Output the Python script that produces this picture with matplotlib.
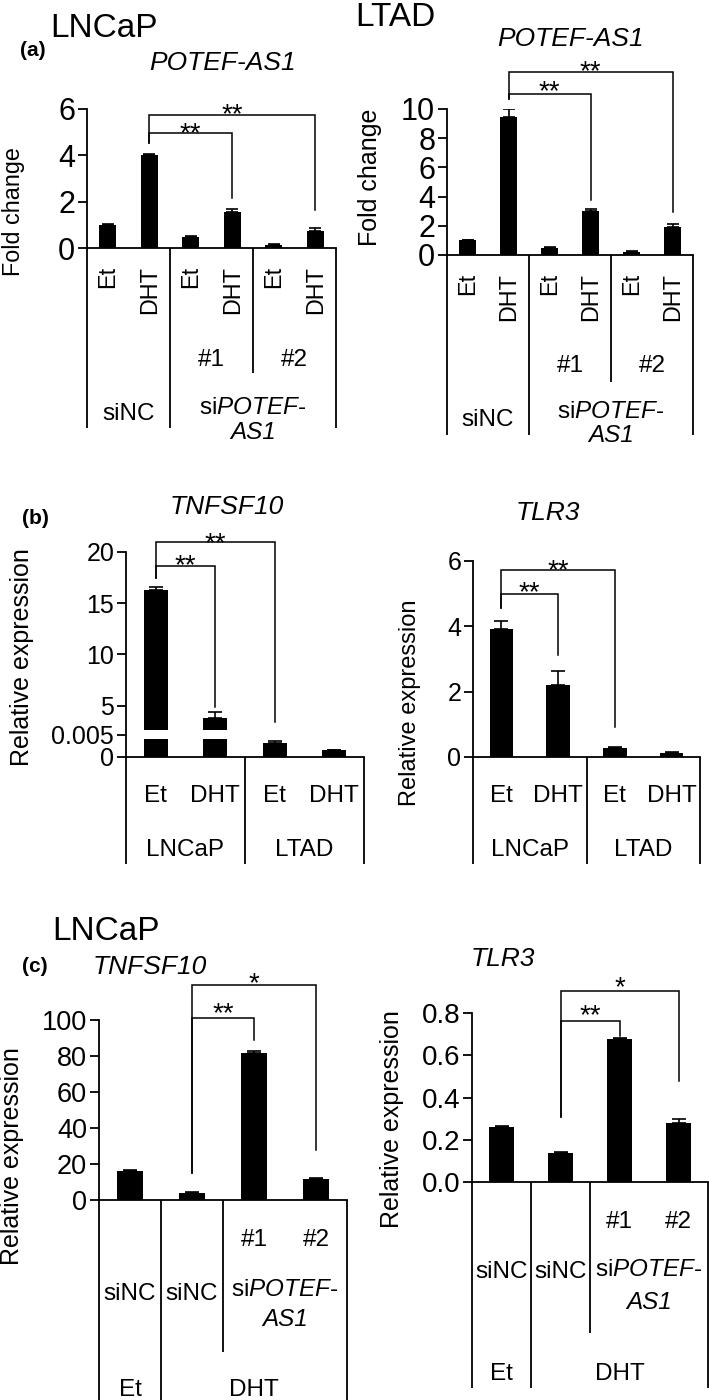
import numpy as np
import matplotlib
matplotlib.use("Agg")
import matplotlib.pyplot as plt
import matplotlib.transforms as mtransforms

plt.rcParams['font.family'] = ['Liberation Sans', 'DejaVu Sans']
plt.rcParams['mathtext.fontset'] = 'custom'
plt.rcParams['mathtext.rm'] = 'Liberation Sans'
plt.rcParams['mathtext.it'] = 'Liberation Sans:italic'
plt.rcParams['mathtext.bf'] = 'Liberation Sans:bold'

# ---------------- data ----------------
# (a) POTEF-AS1 fold change: siNC Et/DHT, si#1 Et/DHT, si#2 Et/DHT
a_treat = ["Et", "DHT", "Et", "DHT", "Et", "DHT"]
a_lncap_vals = [1.0, 4.03, 0.49, 1.56, 0.15, 0.75]
a_lncap_err = [0.03, 0.04, 0.02, 0.14, 0.02, 0.12]
a_ltad_vals = [1.0, 9.47, 0.50, 3.00, 0.22, 1.90]
a_ltad_err = [0.03, 0.50, 0.03, 0.12, 0.02, 0.20]

# (b) relative expression: LNCaP Et/DHT, LTAD Et/DHT
b_treat = ["Et", "DHT", "Et", "DHT"]
b_cells = ["LNCaP", "LTAD"]
b_tnfsf10_vals = [16.3, 3.8, 1.37, 0.68]   # broken axis display scale
b_tnfsf10_err = [0.30, 0.60, 0.18, 0.03]
b_tnfsf10_ticks = [0, 2.15, 5, 10, 15, 20]
b_tnfsf10_ticklabels = ["0", "0.005", "5", "10", "15", "20"]
b_break = (1.76, 2.63)
b_tlr3_vals = [3.91, 2.20, 0.28, 0.12]
b_tlr3_err = [0.25, 0.43, 0.03, 0.02]

# (c) LNCaP: Et siNC, DHT siNC, DHT si#1, DHT si#2
c_tnfsf10_vals = [16.1, 3.8, 81.7, 11.5]
c_tnfsf10_err = [0.5, 0.4, 1.3, 0.5]
c_tlr3_vals = [0.262, 0.138, 0.676, 0.281]
c_tlr3_err = [0.002, 0.002, 0.005, 0.018]

# ---------------- figure ----------------
W, H = 709, 1400
fig = plt.figure(figsize=(W / 100, H / 100), dpi=100)
PX = mtransforms.Affine2D().scale(1.0 / W, -1.0 / H).translate(0, 1) + fig.transFigure
LW = 1.3
TFS = 17.5  # table text size


def ftext(x, y, s, **kw):
    fig.text(x, y, s, transform=PX, **kw)


def make_axes(x0, x1, ytop, ybot, ylim, yticks, yticklabels, tick_fs):
    ax = fig.add_axes([x0 / W, 1 - ybot / H, (x1 - x0) / W, (ybot - ytop) / H])
    ax.set_ylim(*ylim)
    for s in ("top", "right"):
        ax.spines[s].set_visible(False)
    for s in ("left", "bottom"):
        ax.spines[s].set_linewidth(LW)
    ax.tick_params(axis="x", length=0, labelbottom=False)
    ax.tick_params(axis="y", direction="out", length=6.5, width=LW,
                   labelsize=tick_fs, pad=2)
    ax.set_yticks(yticks)
    ax.set_yticklabels(yticklabels)
    ax.patch.set_alpha(0)
    return ax


def draw_bars(ax, vals, errs, width=0.41, capsize=4):
    x = np.arange(len(vals))
    ax.bar(x, vals, width, color="black", zorder=2)
    ax.errorbar(x, vals, yerr=[np.zeros(len(vals)), errs], fmt="none",
                ecolor="black", elinewidth=1.2, capsize=capsize,
                capthick=1.2, zorder=1)
    ax.set_xlim(-0.5, len(vals) - 0.5)


def bracket(ax, x1, x2, y1, ytop, y2, label, d_px=10, fs=20):
    ax.plot([x1, x1, x2, x2], [y1, ytop, ytop, y2], color="black", lw=1.1,
            clip_on=False, solid_joinstyle="miter", zorder=3)
    ax.annotate(label, xy=((x1 + x2) / 2, ytop),
                xytext=(0, (d_px - 9.5) / 1.389), textcoords="offset points",
                ha="center", va="center", fontsize=fs, annotation_clip=False)


def vline(ax, xd, y0, y1):
    tr = mtransforms.blended_transform_factory(ax.transData, PX)
    ax.plot([xd, xd], [y0, y1], transform=tr, color="black", lw=LW,
            clip_on=False, solid_capstyle="butt")


def ctext(ax, xd, ypx, s, **kw):
    tr = mtransforms.blended_transform_factory(ax.transData, PX)
    kw.setdefault("ha", "center")
    kw.setdefault("va", "center_baseline")
    ax.text(xd, ypx, s, transform=tr, clip_on=False, **kw)


SIPOTEF = r"si$\mathit{POTEF}$" + "-"

# ================= (a) =================
ftext(50, 25, "LNCaP", fontsize=24, ha="left", va="center_baseline")
ftext(355, 14, "LTAD", fontsize=24, ha="left", va="center_baseline")
ftext(20, 49, "(a)", fontsize=15, fontweight="bold", ha="left", va="center_baseline")
ftext(222, 60, "POTEF-AS1", fontsize=19, style="italic", ha="center", va="center_baseline")
ftext(570, 37, "POTEF-AS1", fontsize=19, style="italic", ha="center", va="center_baseline")

# left (LNCaP)
ax = make_axes(87, 336, 109, 248, (0, 6), [0, 2, 4, 6], ["0", "2", "4", "6"], 22)
draw_bars(ax, a_lncap_vals, a_lncap_err, capsize=4)
bracket(ax, 1, 3, 4.53, 4.96, 2.16, "**", d_px=8)
bracket(ax, 1, 5, 4.53, 5.73, 1.64, "**", d_px=10)
for i, t in enumerate(a_treat):
    ctext(ax, i, 266, t, fontsize=16.8, rotation=90, va="top")
ctext(ax, 2.5, 358, "#1", fontsize=TFS)
ctext(ax, 4.5, 358, "#2", fontsize=TFS)
ctext(ax, 0.5, 412, "siNC", fontsize=TFS)
ctext(ax, 3.5, 405, SIPOTEF, fontsize=TFS)
ctext(ax, 3.5, 430, "AS1", fontsize=TFS, style="italic")
for xd in (-0.5, 1.5, 5.5):
    vline(ax, xd, 248, 428)
vline(ax, 3.5, 248, 373)
ftext(14, 212, "Fold change", fontsize=16.8, rotation=90, ha="center", va="center")

# right (LTAD)
ax = make_axes(447, 693, 109, 255, (0, 10), [0, 2, 4, 6, 8, 10],
               ["0", "2", "4", "6", "8", "10"], 22)
draw_bars(ax, a_ltad_vals, a_ltad_err, capsize=4)
bracket(ax, 1, 3, 10.68, 11.03, 3.77, "**", d_px=11)
bracket(ax, 1, 5, 10.68, 12.53, 2.95, "**", d_px=9)
for i, t in enumerate(a_treat):
    ctext(ax, i, 273, t, fontsize=16.8, rotation=90, va="top")
ctext(ax, 2.5, 363, "#1", fontsize=TFS)
ctext(ax, 4.5, 363, "#2", fontsize=TFS)
ctext(ax, 0.5, 418, "siNC", fontsize=TFS)
ctext(ax, 3.5, 410, SIPOTEF, fontsize=TFS)
ctext(ax, 3.5, 433, "AS1", fontsize=TFS, style="italic")
for xd in (-0.5, 1.5, 5.5):
    vline(ax, xd, 255, 435)
vline(ax, 3.5, 255, 382)
ftext(370, 177, "Fold change", fontsize=18, rotation=90, ha="center", va="center")

# ================= (b) =================
ftext(22, 517, "(b)", fontsize=15, fontweight="bold", ha="left", va="center_baseline")
ftext(227, 505, "TNFSF10", fontsize=19, style="italic", ha="center", va="center_baseline")
ftext(548, 510, "TLR3", fontsize=19, style="italic", ha="center", va="center_baseline")

# left TNFSF10
ax = make_axes(126, 364, 552, 757, (0, 20), b_tnfsf10_ticks, b_tnfsf10_ticklabels, 18)
draw_bars(ax, b_tnfsf10_vals, b_tnfsf10_err, capsize=5)
ax.bar([0, 1], [b_break[1] - b_break[0]] * 2, 0.45, bottom=b_break[0],
       color="white", zorder=2.5)
bracket(ax, 0, 1, 17.46, 18.63, 4.88, "**", d_px=9)
bracket(ax, 0, 2, 17.46, 20.98, 3.41, "**", d_px=7)
for i, t in enumerate(b_treat):
    ctext(ax, i, 793, t, fontsize=17.5)
for j, c in enumerate(b_cells):
    ctext(ax, 2 * j + 0.5, 848, c, fontsize=17.5)
for xd in (-0.5, 1.5, 3.5):
    vline(ax, xd, 757, 864)
ftext(22, 657, "Relative expression", fontsize=18, rotation=90, ha="center", va="center")

# right TLR3
ax = make_axes(473, 700, 561, 757, (0, 6), [0, 2, 4, 6], ["0", "2", "4", "6"], 18)
draw_bars(ax, b_tlr3_vals, b_tlr3_err, capsize=5)
bracket(ax, 0, 1, 4.56, 4.98, 3.12, "**", d_px=11)
bracket(ax, 0, 2, 4.56, 5.72, 0.92, "**", d_px=8)
for i, t in enumerate(b_treat):
    ctext(ax, i, 793, t, fontsize=17.5)
for j, c in enumerate(b_cells):
    ctext(ax, 2 * j + 0.5, 848, c, fontsize=17.5)
for xd in (-0.5, 1.5, 3.5):
    vline(ax, xd, 757, 864)
ftext(410, 703, "Relative expression", fontsize=17, rotation=90, ha="center", va="center")

# ================= (c) =================
ftext(52, 928, "LNCaP", fontsize=24, ha="left", va="center_baseline")
ftext(22, 965, "(c)", fontsize=15, fontweight="bold", ha="left", va="center_baseline")
ftext(150, 965, "TNFSF10", fontsize=19, style="italic", ha="center", va="center_baseline")
ftext(503, 957, "TLR3", fontsize=19, style="italic", ha="center", va="center_baseline")


def c_table(ax, ybase, y_hash, y_sinc, y_si, y_as1, y_trt, y_end, y_mid):
    ctext(ax, 2, y_hash, "#1", fontsize=TFS)
    ctext(ax, 3, y_hash, "#2", fontsize=TFS)
    ctext(ax, 0, y_sinc, "siNC", fontsize=TFS)
    ctext(ax, 1, y_sinc, "siNC", fontsize=TFS)
    ctext(ax, 2.5, y_si, SIPOTEF, fontsize=TFS)
    ctext(ax, 2.5, y_as1, "AS1", fontsize=TFS, style="italic")
    ctext(ax, 0, y_trt, "Et", fontsize=TFS, va="baseline")
    ctext(ax, 2, y_trt, "DHT", fontsize=TFS, va="baseline")
    for xd in (-0.5, 0.5, 3.5):
        vline(ax, xd, ybase, y_end)
    vline(ax, 1.5, ybase, y_mid)


# left TNFSF10
ax = make_axes(99, 347, 1020, 1200, (0, 100), [0, 20, 40, 60, 80, 100],
               ["0", "20", "40", "60", "80", "100"], 19.5)
draw_bars(ax, c_tnfsf10_vals, c_tnfsf10_err, capsize=5)
bracket(ax, 1, 2, 15, 101.1, 88.9, "**", d_px=13)
bracket(ax, 1, 3, 15, 119.4, 27.8, "*", d_px=10)
c_table(ax, 1200, 1238, 1292, 1287, 1317, 1396, 1402, 1352)
ftext(12, 1156, "Relative expression", fontsize=18, rotation=90, ha="center", va="center")

# right TLR3
ax = make_axes(472, 708, 1013, 1182, (0, 0.8), [0, 0.2, 0.4, 0.6, 0.8],
               ["0.0", "0.2", "0.4", "0.6", "0.8"], 20)
draw_bars(ax, c_tlr3_vals, c_tlr3_err, capsize=5)
bracket(ax, 1, 2, 0.31, 0.762, 0.69, "**", d_px=14)
bracket(ax, 1, 3, 0.31, 0.905, 0.476, "*", d_px=12)
c_table(ax, 1182, 1220, 1270, 1268, 1300, 1380, 1388, 1333)
ftext(392, 1119, "Relative expression", fontsize=18, rotation=90, ha="center", va="center")

fig.savefig("out.png", dpi=100)
